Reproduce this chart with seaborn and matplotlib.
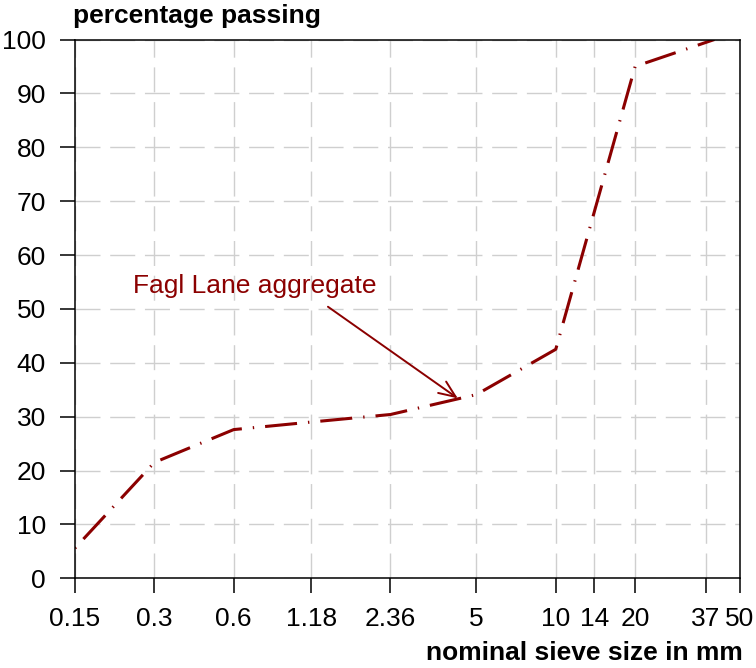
import matplotlib
matplotlib.use("Agg")
import matplotlib.pyplot as plt
import seaborn as sns
import pandas as pd

# Sieve analysis of the Fagl Lane aggregate
sieve_mm = [0.15, 0.3, 0.6, 1.18, 2.36, 5, 10, 14, 20, 40]
passing_pct = [5.6, 21.5, 27.6, 29.0, 30.4, 34.1, 42.5, 68.0, 95.0, 100.0]

x_ticks = [0.15, 0.3, 0.6, 1.18, 2.36, 5, 10, 14, 20, 37, 50]
x_tick_labels = ["0.15", "0.3", "0.6", "1.18", "2.36", "5", "10", "14", "20", "37", "50"]
y_ticks = [0, 10, 20, 30, 40, 50, 60, 70, 80, 90, 100]

df = pd.DataFrame({"sieve": sieve_mm, "passing": passing_pct})

sns.set_theme(style="white", rc={"text.color": "black", "xtick.color": "black",
                                 "ytick.color": "black", "axes.labelcolor": "black"})
plt.rcParams["font.family"] = ["Liberation Sans", "DejaVu Sans"]

FS = 19
DPI = 100
fig = plt.figure(figsize=(7.56, 6.68), dpi=DPI)
ax = fig.add_axes([75 / 756, 1 - 578.3 / 668, (740 - 75) / 756, (578.3 - 39.5) / 668])

ax.set_xscale("log")
ax.set_xlim(0.15, 50)
ax.set_ylim(0, 100)

# dashed light-grey grid at every labelled tick
ax.set_xticks(x_ticks)
ax.set_xticklabels(x_tick_labels)
ax.minorticks_off()
ax.set_yticks(y_ticks)
ax.grid(True, which="major", color="#cfcfcf", lw=1.0, linestyle=(0, (18, 7)))
ax.set_axisbelow(True)

sns.lineplot(data=df, x="sieve", y="passing", ax=ax, color="#8B0000", lw=2.2,
             linestyle=(0, (0.45, 3.6, 10.5, 3.6)), solid_capstyle="butt",
             dash_capstyle="butt", clip_on=True)

for side in ["left", "bottom", "right", "top"]:
    ax.spines[side].set_visible(True)
    ax.spines[side].set_color("black")
    ax.spines[side].set_linewidth(1.1)

ax.tick_params(axis="both", which="major", direction="out", length=10.8, width=1.1,
               color="black", labelcolor="black", labelsize=FS, pad=10.2,
               left=True, bottom=True)
ax.set_xlabel("")
ax.set_ylabel("")

# annotation with arrow
ax.annotate("", xy=(4.25, 33.4), xytext=(1.367, 50.4),
            arrowprops=dict(arrowstyle="->,head_length=0.6,head_width=0.25",
                            color="#8B0000", lw=1.4, mutation_scale=20,
                            shrinkA=0, shrinkB=0))
ax.text(0.249, 52.9, "Fagl Lane aggregate", color="#8B0000", fontsize=FS,
        ha="left", va="baseline")

fig.text(73 / 756, 1 - 22.7 / 668, "percentage passing", fontsize=FS,
         fontweight="bold", ha="left", va="baseline", color="black")
fig.text(743 / 756, 1 - 660 / 668, "nominal sieve size in mm", fontsize=FS,
         fontweight="bold", ha="right", va="baseline", color="black")

fig.savefig("out.png", dpi=DPI, facecolor="white")
